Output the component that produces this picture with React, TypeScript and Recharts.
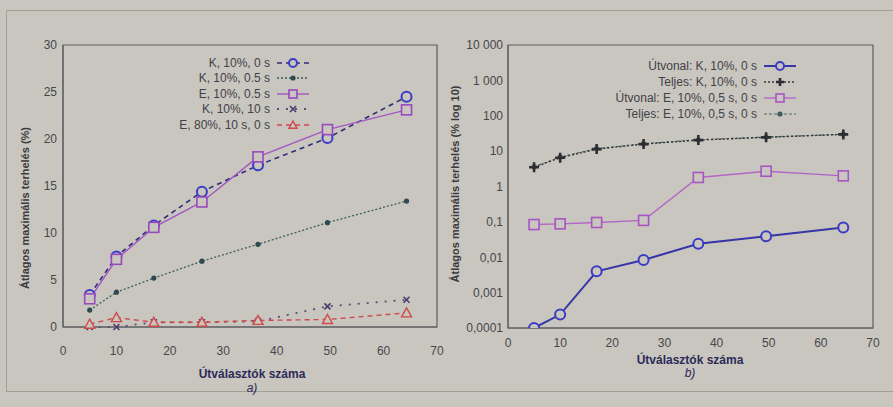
import { LineChart, Line, XAxis, YAxis, ReferenceArea } from "recharts";

// number of routers (x) — same positions in both panels
const routers = [5, 10, 17, 26, 36.5, 49.5, 64.3];

// a) average max load, %
const kZero = [3.4, 7.5, 10.8, 14.4, 17.2, 20.1, 24.5];
const kHalf = [1.8, 3.7, 5.2, 7.0, 8.8, 11.1, 13.4];
const eHalf = [3.0, 7.2, 10.6, 13.3, 18.1, 21.0, 23.1];
const kTen = [0, 0, 0.5, 0.5, 0.6, 2.2, 2.9];
const eEighty = [0.3, 1.0, 0.5, 0.5, 0.7, 0.8, 1.5];

// b) average max load, % (log 10)
const routeK = [0.0001, 0.00024, 0.004, 0.0084, 0.024, 0.039, 0.069];
const fullK = [3.5, 6.5, 11.4, 15.8, 20.5, 24.5, 29.7];
const routeE = [0.084, 0.088, 0.096, 0.11, 1.8, 2.7, 2.0];
const fullE = [3.6, 6.8, 11.8, 16.2, 21.0, 25.0, 30.0];

const xTicks = [0, 10, 20, 30, 40, 50, 60, 70];
const linTicks = [0, 5, 10, 15, 20, 25, 30];
const logTicks = [0.0001, 0.001, 0.01, 0.1, 1, 10, 100, 1000, 10000];
const logLabels = ["0,0001", "0,001", "0,01", "0,1", "1", "10", "100", "1 000", "10 000"];

const legendA = ["K, 10%, 0 s", "K, 10%, 0.5 s", "E, 10%, 0.5 s", "K, 10%, 10 s", "E, 80%, 10 s, 0 s"];
const legendB = ["Útvonal: K, 10%, 0 s", "Teljes: K, 10%, 0 s", "Útvonal: E, 10%, 0,5 s, 0 s", "Teljes: E, 10%, 0,5 s, 0 s"];

const dataA = routers.map((x, i) => ({
  x,
  kZero: kZero[i],
  kHalf: kHalf[i],
  eHalf: eHalf[i],
  kTen: kTen[i],
  eEighty: eEighty[i],
}));

const dataB = routers.map((x, i) => ({
  x,
  routeK: routeK[i],
  fullK: fullK[i],
  routeE: routeE[i],
  fullE: fullE[i],
}));

const BG = "#c9c6bf";
const FONT = "'Liberation Sans', Arial, sans-serif";
const AXIS = "#5c5c60";
const tickStyle = { fontSize: 12, fill: "#46464c", fontFamily: FONT };
const blank = () => "";

type Shape = "circle" | "square" | "dot" | "cross" | "plus" | "triangle";

interface Style {
  key: string;
  stroke: string;
  mark: string;
  dash?: string;
  width: number;
  shape: Shape;
}

const stylesA: Style[] = [
  { key: "kZero", stroke: "#2d2d78", mark: "#3b3bc4", dash: "5 4", width: 1.6, shape: "circle" },
  { key: "kHalf", stroke: "#3f5c60", mark: "#2e4a4e", dash: "2 2", width: 1.3, shape: "dot" },
  { key: "eHalf", stroke: "#a456c4", mark: "#9a48c0", width: 1.4, shape: "square" },
  { key: "kTen", stroke: "#5a4c7c", mark: "#4a3c6c", dash: "2 7", width: 1.8, shape: "cross" },
  { key: "eEighty", stroke: "#d0494a", mark: "#d0494a", dash: "5 4", width: 1.4, shape: "triangle" },
];

const stylesB: Style[] = [
  { key: "routeK", stroke: "#3535a8", mark: "#3b3bc4", width: 2, shape: "circle" },
  { key: "fullK", stroke: "#38383c", mark: "#2e2e32", dash: "2 2", width: 1.4, shape: "plus" },
  { key: "routeE", stroke: "#b266c8", mark: "#a854c4", width: 1.4, shape: "square" },
  { key: "fullE", stroke: "#4c6c6a", mark: "#3e5e5c", dash: "3 2", width: 1.2, shape: "dot" },
];

function Marker({ shape, cx, cy, color, s = 1 }: { shape: Shape; cx: number; cy: number; color: string; s?: number }) {
  if (cx == null || cy == null) return null;
  switch (shape) {
    case "circle":
      return <circle cx={cx} cy={cy} r={5 * s} fill={BG} stroke={color} strokeWidth={2} />;
    case "square":
      return <rect x={cx - 5 * s} y={cy - 5 * s} width={10 * s} height={10 * s} fill={BG} stroke={color} strokeWidth={1.6} />;
    case "dot":
      return <circle cx={cx} cy={cy} r={2.6} fill={color} />;
    case "cross":
      return (
        <path
          d={`M${cx - 3},${cy - 3}L${cx + 3},${cy + 3}M${cx - 3},${cy + 3}L${cx + 3},${cy - 3}`}
          stroke={color}
          strokeWidth={1.6}
        />
      );
    case "plus":
      return (
        <path
          d={`M${cx - 5 * s},${cy}L${cx + 5 * s},${cy}M${cx},${cy - 5 * s}L${cx},${cy + 5 * s}`}
          stroke={color}
          strokeWidth={2.6}
        />
      );
    case "triangle":
      return (
        <path
          d={`M${cx},${cy - 5 * s}L${cx + 5 * s},${cy + 4 * s}L${cx - 5 * s},${cy + 4 * s}Z`}
          fill={BG}
          stroke={color}
          strokeWidth={1.4}
        />
      );
  }
  return null;
}

const dotFor = (s: Style) => (p: any) => (
  <Marker key={`${s.key}-${p.index}`} shape={s.shape} cx={p.cx} cy={p.cy} color={s.mark} />
);

function Legend({ items, styles, left, top, textWidth, rowH }: {
  items: string[];
  styles: Style[];
  left: number;
  top: number;
  textWidth: number;
  rowH: number;
}) {
  return (
    <div style={{ position: "absolute", left, top, fontFamily: FONT, fontSize: 12, color: "#414148" }}>
      {items.map((label, i) => {
        const s = styles[i];
        return (
          <div key={label} style={{ display: "flex", alignItems: "center", height: rowH }}>
            <span style={{ width: textWidth, textAlign: "right", whiteSpace: "nowrap" }}>{label}</span>
            <svg width={32} height={12} style={{ marginLeft: 7 }}>
              <line x1={0} y1={6} x2={32} y2={6} stroke={s.stroke} strokeWidth={s.width} strokeDasharray={s.dash} />
              <Marker shape={s.shape} cx={16} cy={6} color={s.mark} s={0.8} />
            </svg>
          </div>
        );
      })}
    </div>
  );
}

// inward tick marks on all four sides (gnuplot-style box)
function BoxTicks({ yDomain, log }: { yDomain: [number, number]; log?: boolean }) {
  const yt = log ? logTicks : linTicks;
  return [
    <XAxis key="xb" xAxisId="xb" orientation="bottom" mirror type="number" domain={[0, 70]} ticks={xTicks}
      height={0} axisLine={false} stroke={AXIS} tickSize={5} tickFormatter={blank} />,
    <XAxis key="xt" xAxisId="xt" orientation="top" mirror type="number" domain={[0, 70]} ticks={xTicks}
      height={0} axisLine={false} stroke={AXIS} tickSize={5} tickFormatter={blank} />,
    <YAxis key="yl" yAxisId="yl" orientation="left" mirror type="number" scale={log ? "log" : "auto"}
      domain={yDomain} ticks={yt} allowDataOverflow width={0} axisLine={false} stroke={AXIS} tickSize={5}
      tickFormatter={blank} />,
    <YAxis key="yr" yAxisId="yr" orientation="right" mirror type="number" scale={log ? "log" : "auto"}
      domain={yDomain} ticks={yt} allowDataOverflow width={0} axisLine={false} stroke={AXIS} tickSize={5}
      tickFormatter={blank} />,
  ];
}

const xTitle = { position: "absolute" as const, fontFamily: FONT, fontSize: 12, fontWeight: 700, color: "#2b2b58", textAlign: "center" as const, width: 200 };
const yTitle = { position: "absolute" as const, fontFamily: FONT, fontSize: 11, fontWeight: 700, color: "#3a3a40", whiteSpace: "nowrap" as const, transform: "translate(-50%, -50%) rotate(-90deg)" };

export default function App() {
  return (
    <div style={{ position: "absolute", left: 0, top: 0, width: 893, height: 407, background: BG, overflow: "hidden" }}>
      <div style={{ position: "absolute", left: 6, top: 10, width: 920, height: 380, border: "1.5px solid #a3a098" }} />

      {/* a) linear panel */}
      <div style={{ position: "absolute", left: 0, top: 0 }}>
        <LineChart width={450} height={407} data={dataA} margin={{ top: 45, right: 13, bottom: 50, left: 23 }}>
          <XAxis dataKey="x" type="number" domain={[0, 70]} ticks={xTicks} tick={tickStyle} stroke={AXIS}
            tickLine={false} tickSize={0} tickMargin={19} height={30} />
          <YAxis type="number" domain={[0, 30]} ticks={linTicks} tick={tickStyle} stroke={AXIS}
            tickLine={false} tickSize={0} tickMargin={6} width={40} />
          {BoxTicks({ yDomain: [0, 30] })}
          <ReferenceArea x1={0} x2={70} y1={0} y2={30} fill="none" stroke={AXIS} strokeWidth={1.2} />
          {stylesA.map((s) => (
            <Line key={s.key} dataKey={s.key} stroke={s.stroke} strokeWidth={s.width} strokeDasharray={s.dash}
              dot={dotFor(s)} isAnimationActive={false} />
          ))}
        </LineChart>
      </div>
      <Legend items={legendA} styles={stylesA} left={120} top={55} textWidth={150} rowH={15.5} />
      <div style={{ ...yTitle, left: 25, top: 208 }}>Átlagos maximális terhelés (%)</div>
      <div style={{ ...xTitle, left: 152, top: 367 }}>Útválasztók száma</div>
      <div style={{ ...xTitle, left: 152, top: 381, fontWeight: 400, fontStyle: "italic" }}>a)</div>

      {/* b) log panel */}
      <div style={{ position: "absolute", left: 450, top: 0 }}>
        <LineChart width={443} height={407} data={dataB} margin={{ top: 45, right: 20, bottom: 49, left: 8 }}>
          <XAxis dataKey="x" type="number" domain={[0, 70]} ticks={xTicks} tick={tickStyle} stroke={AXIS}
            tickLine={false} tickSize={0} tickMargin={10} height={30} />
          <YAxis type="number" scale="log" domain={[0.0001, 10000]} ticks={logTicks} allowDataOverflow
            tickFormatter={(v: number) => logLabels[logTicks.indexOf(v)] ?? ""} tick={tickStyle} stroke={AXIS}
            tickLine={false} tickSize={0} tickMargin={5} width={50} />
          {BoxTicks({ yDomain: [0.0001, 10000], log: true })}
          <ReferenceArea x1={0} x2={70} y1={0.0001} y2={10000} fill="none" stroke={AXIS} strokeWidth={1.2} />
          {[stylesB[3], stylesB[1], stylesB[2], stylesB[0]].map((s) => (
            <Line key={s.key} dataKey={s.key} stroke={s.stroke} strokeWidth={s.width} strokeDasharray={s.dash}
              dot={dotFor(s)} isAnimationActive={false} />
          ))}
        </LineChart>
      </div>
      <Legend items={legendB} styles={stylesB} left={557} top={58} textWidth={200} rowH={16} />
      <div style={{ ...yTitle, left: 455, top: 184 }}>Átlagos maximális terhelés (% log 10)</div>
      <div style={{ ...xTitle, left: 590, top: 353 }}>Útválasztók száma</div>
      <div style={{ ...xTitle, left: 590, top: 366, fontWeight: 400, fontStyle: "italic" }}>b)</div>
    </div>
  );
}
